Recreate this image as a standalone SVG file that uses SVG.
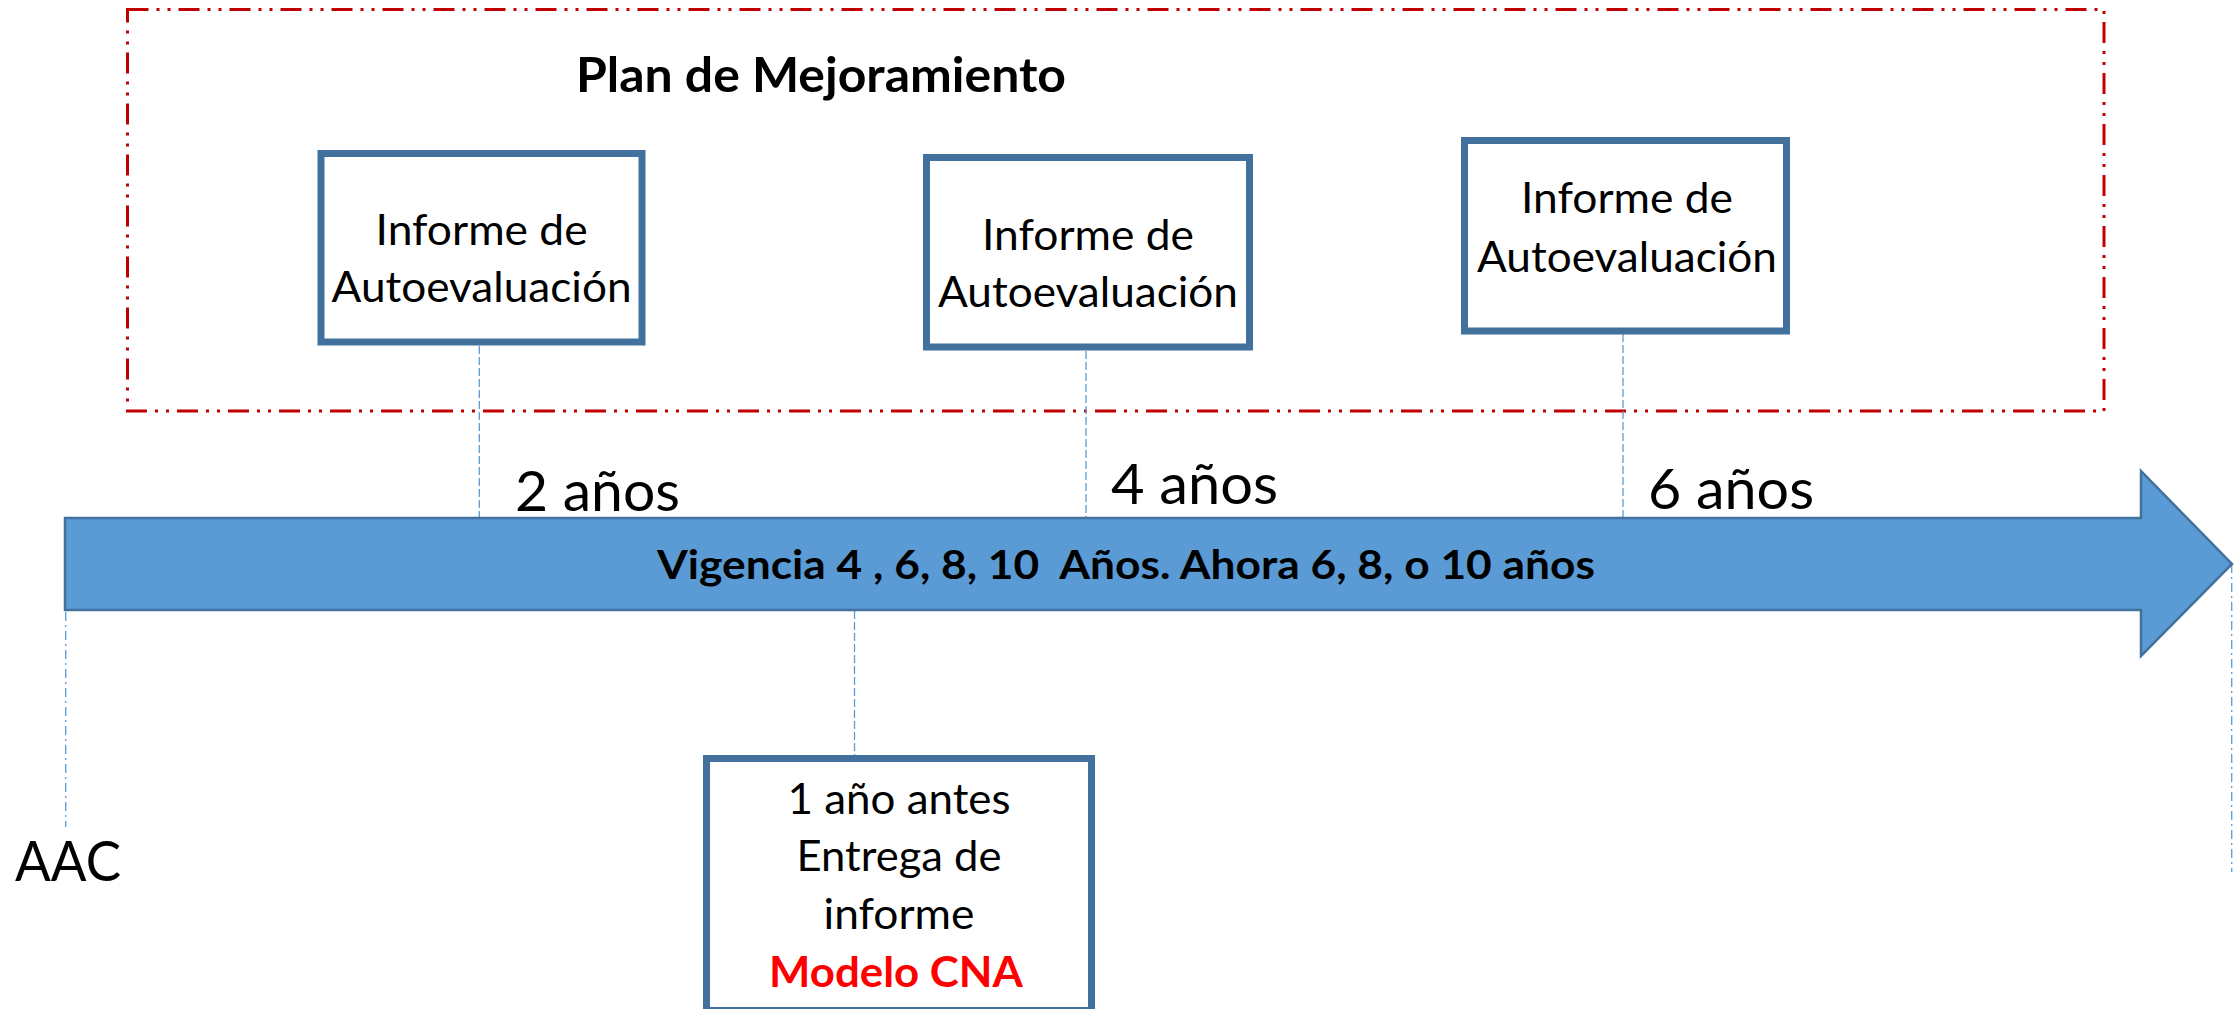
<svg xmlns="http://www.w3.org/2000/svg" width="2239" height="1009" viewBox="0 0 2239 1009">
<style>
.t{font-family:Lato,"Open Sans","Liberation Sans",sans-serif;fill:#000}
.b{font-weight:bold}
.box{fill:#fff;stroke:#41719C;stroke-width:7}
.dash{stroke:#5B9BD5;stroke-width:1.3;stroke-dasharray:8 3;fill:none}
.dd{stroke:#5B9BD5;stroke-width:1.3;stroke-dasharray:9 4 2 4;fill:none}
</style>
<rect width="2239" height="1009" fill="#fff"/>
<g id="plan">
<rect x="127.5" y="9.5" width="1976.5" height="401.5" fill="none" stroke="#C00000" stroke-width="3" stroke-dasharray="21 8 3 8 3 8"/>
<text class="t b" x="821" y="91.7" font-size="47" text-anchor="middle" textLength="490" lengthAdjust="spacingAndGlyphs">Plan de Mejoramiento</text>
</g>
<g id="connectors">
<line class="dash" x1="479.3" y1="346" x2="479.3" y2="518"/>
<line class="dash" x1="1086" y1="351" x2="1086" y2="518"/>
<line class="dash" x1="1623" y1="334" x2="1623" y2="518"/>
<line class="dash" x1="854.5" y1="611" x2="854.5" y2="755"/>
<line class="dd" x1="65.7" y1="612" x2="65.7" y2="827"/>
<line class="dd" x1="2231.7" y1="564" x2="2231.7" y2="872"/>
</g>
<g id="arrow">
<polygon points="65,518 2141,518 2141,471 2232,564 2141,656 2141,610 65,610" fill="#5B9BD5" stroke="#41719C" stroke-width="2.5" stroke-linejoin="miter"/>
<text class="t b" x="1126" y="579" font-size="39.5" text-anchor="middle" textLength="938" lengthAdjust="spacingAndGlyphs">Vigencia 4 , 6, 8, 10&#160; Años. Ahora 6, 8, o 10 años</text>
</g>
<g id="informe1">
<rect class="box" x="321" y="153.5" width="321" height="188.5"/>
<text class="t" x="481.6" y="245" font-size="42.5" text-anchor="middle" textLength="212" lengthAdjust="spacingAndGlyphs">Informe de</text>
<text class="t" x="481.6" y="302" font-size="42.5" text-anchor="middle" textLength="300" lengthAdjust="spacingAndGlyphs">Autoevaluación</text>
</g>
<g id="informe2">
<rect class="box" x="926.5" y="157.5" width="323" height="189.5"/>
<text class="t" x="1088" y="249.5" font-size="42.5" text-anchor="middle" textLength="212" lengthAdjust="spacingAndGlyphs">Informe de</text>
<text class="t" x="1088" y="307" font-size="42.5" text-anchor="middle" textLength="300" lengthAdjust="spacingAndGlyphs">Autoevaluación</text>
</g>
<g id="informe3">
<rect class="box" x="1464.5" y="140.5" width="322" height="190.5"/>
<text class="t" x="1627" y="213" font-size="42.5" text-anchor="middle" textLength="212" lengthAdjust="spacingAndGlyphs">Informe de</text>
<text class="t" x="1627" y="272" font-size="42.5" text-anchor="middle" textLength="300" lengthAdjust="spacingAndGlyphs">Autoevaluación</text>
</g>
<g id="labels">
<text class="t" x="515" y="510.5" font-size="57" textLength="165" lengthAdjust="spacingAndGlyphs">2 años</text>
<text class="t" x="1111" y="504" font-size="57" textLength="167" lengthAdjust="spacingAndGlyphs">4 años</text>
<text class="t" x="1648" y="509" font-size="57" textLength="166" lengthAdjust="spacingAndGlyphs">6 años</text>
<text class="t" x="15" y="881" font-size="57" textLength="106" lengthAdjust="spacingAndGlyphs">AAC</text>
</g>
<g id="entrega">
<rect class="box" x="706.5" y="758.5" width="385" height="252"/>
<text class="t" x="899" y="814" font-size="42.5" text-anchor="middle" textLength="223" lengthAdjust="spacingAndGlyphs">1 año antes</text>
<text class="t" x="899" y="871" font-size="42.5" text-anchor="middle" textLength="205" lengthAdjust="spacingAndGlyphs">Entrega de</text>
<text class="t" x="899" y="928.5" font-size="42.5" text-anchor="middle" textLength="151" lengthAdjust="spacingAndGlyphs">informe</text>
<text class="t b" x="896" y="986.5" font-size="42.5" text-anchor="middle" textLength="254" lengthAdjust="spacingAndGlyphs" style="fill:#FF0000">Modelo CNA</text>
</g>
</svg>
